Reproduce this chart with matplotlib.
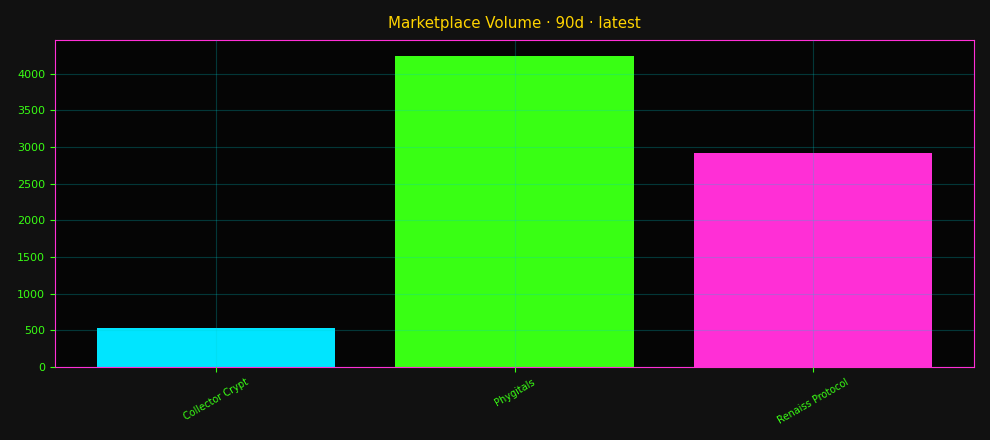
import matplotlib
matplotlib.use("Agg")
import matplotlib.pyplot as plt

marketplaces = ["Collector Crypt", "Phygitals", "Renaiss Protocol"]
volumes = [532, 4246, 2921]
bar_colors = ["#00E5FF", "#39FF14", "#FF2FD6"]

fig, ax = plt.subplots(figsize=(9.9, 4.4), dpi=100)
fig.patch.set_facecolor("#111111")
ax.set_facecolor("#050505")

ax.bar(marketplaces, volumes, color=bar_colors, width=0.8)

ax.set_title("Marketplace Volume · 90d · latest", color="#FFD400", fontsize=10.8, pad=9)
ax.grid(True, color="#00CED1", alpha=0.25, linewidth=0.8)
ax.set_axisbelow(False)

for spine in ax.spines.values():
    spine.set_color("#FF2FD6")
ax.tick_params(axis="both", colors="#39FF14", labelsize=8)
ax.tick_params(axis="x", labelsize=7, labelrotation=30)
for lbl in ax.get_xticklabels():
    lbl.set_ha("center")
    lbl.set_color("#39FF14")

fig.subplots_adjust(left=0.0556, right=0.9838, top=0.909, bottom=0.166)
fig.savefig("out.png", dpi=100, facecolor=fig.get_facecolor())
